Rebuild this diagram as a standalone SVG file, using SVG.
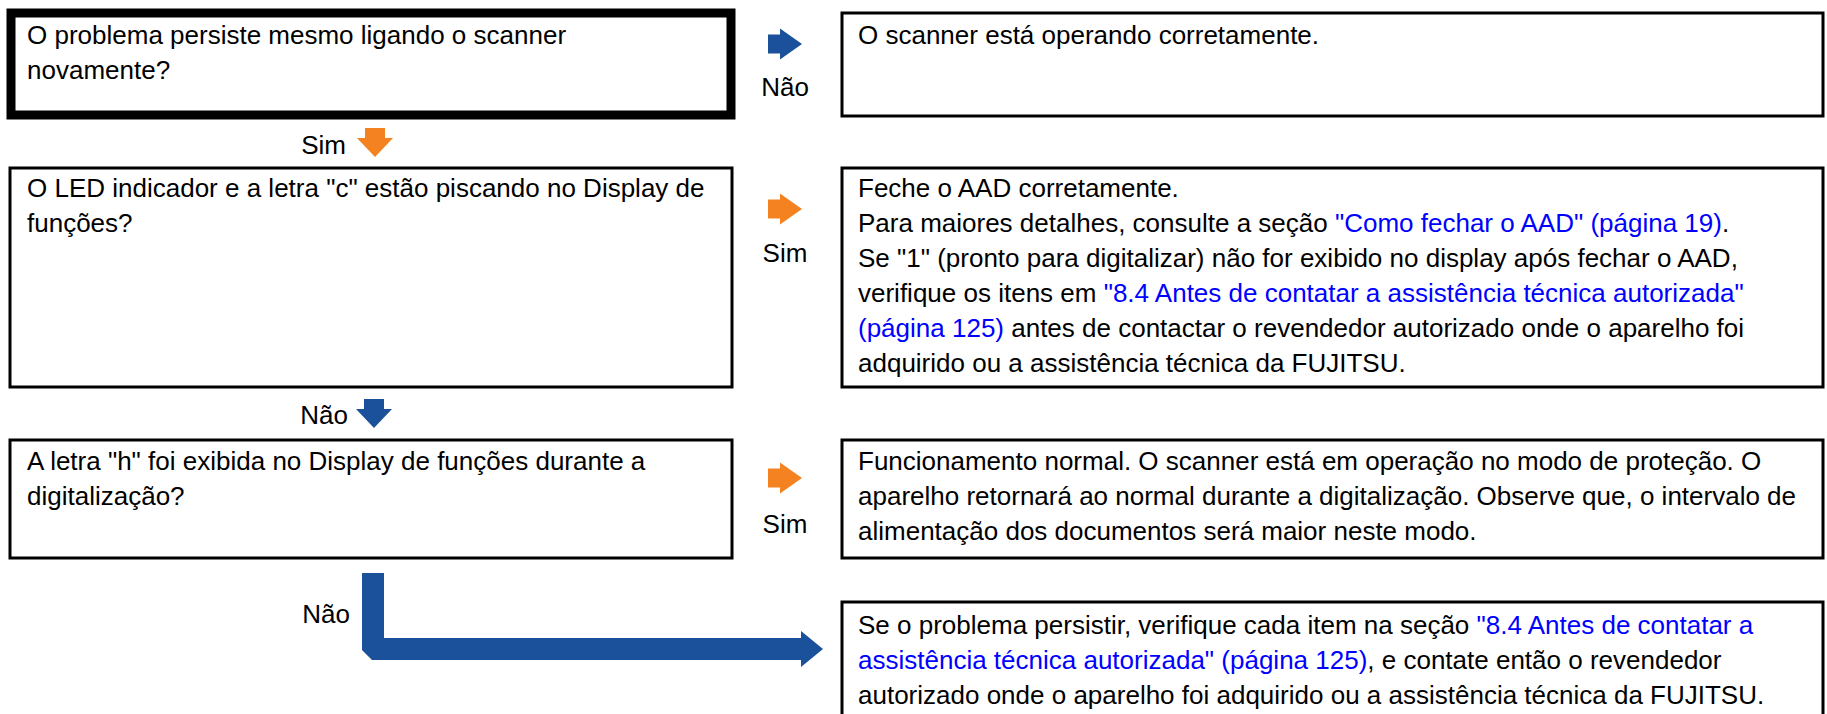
<svg xmlns="http://www.w3.org/2000/svg" width="1827" height="714" viewBox="0 0 1827 714">
<style>
text{font-family:"Liberation Sans",Arial,Helvetica,sans-serif;font-size:26px;fill:#000}
.box{fill:#fff;stroke:#000;stroke-width:3}
.thick{stroke-width:9}
.lnk{fill:#0000ff}
.blue{fill:#1b519b}
.orange{fill:#f58220}
.lbl{text-anchor:middle}
.lblr{text-anchor:end}
</style>
<defs>
<path id="arrR" d="M0,-9.5 H12 V-15.5 L34,0 L12,15.5 V9.5 H0 Z"/>
<path id="arrD" d="M-10,0 H10 V10 H18 L0,29 L-18,10 H-10 Z"/>
</defs>
<rect width="1827" height="714" fill="#fff"/>
<g id="n1">
<rect class="box thick" x="11" y="13" width="720" height="102"/>
<text x="27" y="44">O problema persiste mesmo ligando o scanner</text>
<text x="27" y="79">novamente?</text>
</g>
<g id="n2">
<rect class="box" x="842" y="13" width="981" height="103" stroke-width="2.5"/>
<text x="858" y="44">O scanner está operando corretamente.</text>
</g>
<g id="n3">
<rect class="box" x="10" y="168" width="722" height="219"/>
<text x="27" y="197">O LED indicador e a letra "c" estão piscando no Display de</text>
<text x="27" y="232">funções?</text>
</g>
<g id="n4">
<rect class="box" x="842" y="168" width="981" height="219"/>
<text x="858" y="197">Feche o AAD corretamente.</text>
<text x="858" y="232">Para maiores detalhes, consulte a seção <tspan class="lnk">"Como fechar o AAD" (página 19)</tspan>.</text>
<text x="858" y="267">Se "1" (pronto para digitalizar) não for exibido no display após fechar o AAD,</text>
<text x="858" y="302">verifique os itens em <tspan class="lnk">"8.4 Antes de contatar a assistência técnica autorizada"</tspan></text>
<text x="858" y="337"><tspan class="lnk">(página 125)</tspan> antes de contactar o revendedor autorizado onde o aparelho foi</text>
<text x="858" y="372">adquirido ou a assistência técnica da FUJITSU.</text>
</g>
<g id="n5">
<rect class="box" x="10" y="440" width="722" height="118"/>
<text x="27" y="470">A letra "h" foi exibida no Display de funções durante a</text>
<text x="27" y="505">digitalização?</text>
</g>
<g id="n6">
<rect class="box" x="842" y="440" width="981" height="118"/>
<text x="858" y="470">Funcionamento normal. O scanner está em operação no modo de proteção. O</text>
<text x="858" y="505">aparelho retornará ao normal durante a digitalização. Observe que, o intervalo de</text>
<text x="858" y="540">alimentação dos documentos será maior neste modo.</text>
</g>
<g id="n7">
<rect class="box" x="842" y="602" width="981" height="140"/>
<text x="858" y="634">Se o problema persistir, verifique cada item na seção <tspan class="lnk">"8.4 Antes de contatar a</tspan></text>
<text x="858" y="669"><tspan class="lnk">assistência técnica autorizada" (página 125)</tspan>, e contate então o revendedor</text>
<text x="858" y="704">autorizado onde o aparelho foi adquirido ou a assistência técnica da FUJITSU.</text>
</g>
<g id="connectors">
<use href="#arrR" class="blue" x="768" y="44"/>
<text class="lbl" x="785" y="96">Não</text>
<use href="#arrD" class="orange" x="375" y="128"/>
<text class="lblr" x="346" y="154">Sim</text>
<use href="#arrR" class="orange" x="768" y="209"/>
<text class="lbl" x="785" y="262">Sim</text>
<use href="#arrD" class="blue" x="374" y="399"/>
<text class="lblr" x="348" y="424">Não</text>
<use href="#arrR" class="orange" x="768" y="478"/>
<text class="lbl" x="785" y="533">Sim</text>
<path class="blue" d="M362,573 H384 V638 H801 V631 L823,649 L801,667 V660 H372 L362,650 Z"/>
<text class="lblr" x="350" y="623">Não</text>
</g>
</svg>
